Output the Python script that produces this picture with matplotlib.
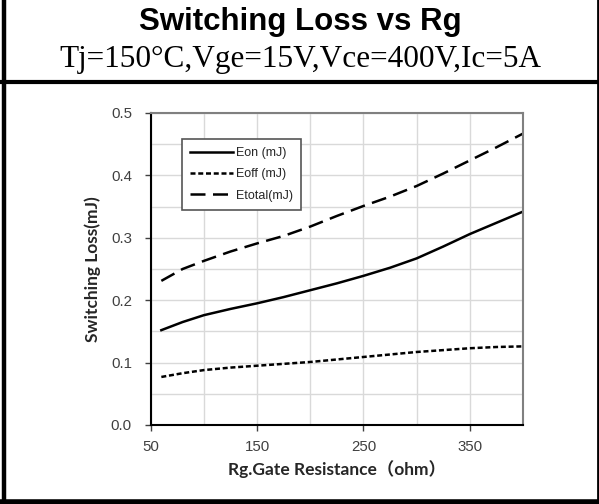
import matplotlib
matplotlib.use("Agg")
import matplotlib.pyplot as plt
from matplotlib.lines import Line2D
from matplotlib.ticker import MultipleLocator, FormatStrFormatter

rg = [60, 80, 100, 125, 150, 175, 200, 225, 250, 275, 300, 325, 350, 375, 400]
eon = [0.152, 0.165, 0.176, 0.186, 0.195, 0.205, 0.216, 0.227, 0.239, 0.252,
       0.267, 0.286, 0.306, 0.324, 0.342]
eoff = [0.077, 0.083, 0.088, 0.092, 0.095, 0.098, 0.101, 0.105, 0.109, 0.113,
        0.117, 0.120, 0.123, 0.125, 0.126]
etotal = [0.231, 0.250, 0.263, 0.278, 0.291, 0.303, 0.318, 0.335, 0.351, 0.366,
          0.383, 0.403, 0.424, 0.445, 0.467]
series_labels = ["Eon (mJ)", "Eoff (mJ)", "Etotal(mJ)"]
x_ticks = [50, 150, 250, 350]
y_ticks = [0.0, 0.1, 0.2, 0.3, 0.4, 0.5]
title = "Switching Loss vs Rg"
subtitle = "Tj=150°C,Vge=15V,Vce=400V,Ic=5A"
xlabel = "Rg.Gate Resistance（ohm）"
ylabel = "Switching Loss(mJ)"

W, H = 599, 504
fig = plt.figure(figsize=(W / 100, H / 100), dpi=100)

def px(x0, y0, x1, y1):
    return [x0 / W, 1 - y1 / H, (x1 - x0) / W, (y1 - y0) / H]

# frame lines
fig.add_artist(Line2D([4 / W, 4 / W], [0, 1], color="black", lw=3.2, transform=fig.transFigure))
fig.add_artist(Line2D([598 / W, 598 / W], [0, 1], color="black", lw=2.0, transform=fig.transFigure))
fig.add_artist(Line2D([0, 1], [1 - 82 / H, 1 - 82 / H], color="black", lw=3.0, transform=fig.transFigure))
fig.add_artist(Line2D([0, 1], [1 - 501.5 / H, 1 - 501.5 / H], color="black", lw=4.0, transform=fig.transFigure))

fig.text(300 / W, 1 - 22 / H, title, ha="center", va="center", fontsize=22.5,
         fontweight="bold", family="Liberation Sans")
fig.text(300 / W, 1 - 60 / H, subtitle, ha="center", va="center", fontsize=22.5,
         family="Liberation Serif")

ax = fig.add_axes(px(150.7, 113, 523, 425))
ax.set_xlim(50, 400)
ax.set_ylim(0, 0.5)

ax.plot(rg, eon, color="black", lw=1.8, label=series_labels[0], solid_joinstyle="round")
ax.plot(rg, eoff, color="black", lw=1.8, dashes=(2.0, 1.1), label=series_labels[1])
ax.plot(rg, etotal, color="black", lw=1.8, dashes=(6.0, 3.0), label=series_labels[2])

ax.set_xticks(x_ticks)
ax.set_yticks(y_ticks)
ax.xaxis.set_minor_locator(MultipleLocator(50))
ax.yaxis.set_minor_locator(MultipleLocator(0.05))
ax.yaxis.set_major_formatter(FormatStrFormatter("%.1f"))
ax.grid(True, which="both", color="#d9d9d9", lw=1.0)
ax.set_axisbelow(True)
ax.tick_params(which="minor", length=0)
ax.tick_params(which="major", length=4.5, width=1, color="#404040", labelcolor="#404040",
               labelsize=10.8, direction="out")
for lab in ax.get_xticklabels() + ax.get_yticklabels():
    lab.set_family("Liberation Sans")
ax.tick_params(axis="x", pad=6)
ax.tick_params(axis="y", pad=9)

ax.spines["left"].set_color("black")
ax.spines["bottom"].set_color("black")
ax.spines["left"].set_linewidth(1.5)
ax.spines["bottom"].set_linewidth(1.5)
ax.spines["top"].set_color("#808080")
ax.spines["right"].set_color("#808080")
ax.spines["top"].set_linewidth(1.5)
ax.spines["right"].set_linewidth(1.5)

ax.set_xlabel(xlabel, fontsize=12.5, fontweight="bold", color="#262626",
              family=["Lato", "Noto Sans CJK SC"], labelpad=5)
ax.set_ylabel(ylabel, fontsize=12.5, fontweight="bold", color="#262626",
              family=["Lato", "Noto Sans CJK SC"], labelpad=7)

leg = ax.legend(loc="upper left", bbox_to_anchor=(0.084, 0.917), borderaxespad=0,
                fancybox=False, framealpha=1, edgecolor="#555555",
                prop={"family": "Liberation Sans", "size": 9},
                handlelength=3.4, handletextpad=0.25, labelspacing=0.75,
                borderpad=0.65)
leg.get_frame().set_linewidth(1.2)
for t in leg.get_texts():
    t.set_color("#262626")

fig.savefig("out.png", dpi=100)
